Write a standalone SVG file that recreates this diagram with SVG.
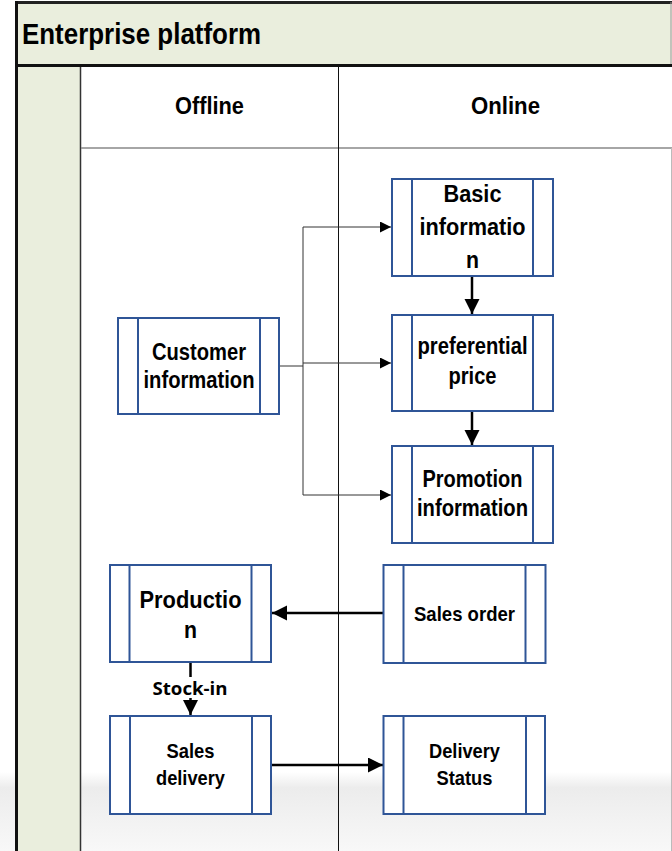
<svg xmlns="http://www.w3.org/2000/svg" width="672" height="851" viewBox="0 0 672 851">
<style>
.node rect{fill:#ffffff;stroke:#2f5597;stroke-width:2}
.node line{stroke:#2f5597;stroke-width:2}
text{font-family:"Liberation Sans",Arial,sans-serif;font-weight:bold;fill:#000;text-anchor:middle}
.thin{stroke:#333;stroke-width:1;fill:none}
.thick{stroke:#000;stroke-width:2.5;fill:none}
</style>
<defs>
<linearGradient id="bg" x1="0" y1="0" x2="0" y2="1">
<stop offset="0" stop-color="#ffffff"/>
<stop offset="0.2" stop-color="#ececec"/>
<stop offset="1" stop-color="#f8f8f8"/>
</linearGradient>
<marker id="ah" markerUnits="userSpaceOnUse" markerWidth="12" markerHeight="12" refX="11" refY="5.5" orient="auto">
<path d="M0,0 L11,5.5 L0,11 Z" fill="#000"/>
</marker>
<marker id="ahb" markerUnits="userSpaceOnUse" markerWidth="16" markerHeight="16" refX="15" refY="7.5" orient="auto">
<path d="M0,0 L15,7.5 L0,15 Z" fill="#000"/>
</marker>
</defs>
<rect x="0" y="0" width="672" height="851" fill="#ffffff"/>
<rect x="0" y="772" width="672" height="79" fill="url(#bg)"/>
<g id="frame">
<rect x="16" y="2" width="656" height="64" fill="#eaeedd"/>
<line x1="15" y1="2.5" x2="672" y2="2.5" stroke="#222" stroke-width="3"/>
<line x1="671" y1="2" x2="671" y2="66" stroke="#999" stroke-width="1"/>
<line x1="15" y1="65.5" x2="672" y2="65.5" stroke="#111" stroke-width="3"/>
<rect x="18" y="67" width="62" height="784" fill="#eaeedd"/>
<line x1="16.5" y1="1" x2="16.5" y2="851" stroke="#111" stroke-width="3"/>
<line x1="80.5" y1="67" x2="80.5" y2="851" stroke="#333" stroke-width="1.5"/>
<line x1="81" y1="148" x2="672" y2="148" stroke="#888" stroke-width="1.5"/>
<line x1="671.5" y1="148" x2="671.5" y2="851" stroke="#bbb" stroke-width="1"/>
<line x1="338.5" y1="67" x2="338.5" y2="851" stroke="#111" stroke-width="1"/>
<text x="22" y="44" font-size="29" textLength="239" lengthAdjust="spacingAndGlyphs" style="text-anchor:start">Enterprise platform</text>
<text x="209.5" y="114" font-size="23" textLength="69" lengthAdjust="spacingAndGlyphs">Offline</text>
<text x="505.5" y="114" font-size="23" textLength="69" lengthAdjust="spacingAndGlyphs">Online</text>
</g>
<g id="connectors">
<polyline class="thin" points="279,366 303,366"/>
<polyline class="thin" points="303,227 303,495"/>
<line class="thin" x1="303" y1="227" x2="391" y2="227" marker-end="url(#ah)"/>
<line class="thin" x1="303" y1="363" x2="391" y2="363" marker-end="url(#ah)"/>
<line class="thin" x1="303" y1="495" x2="391" y2="495" marker-end="url(#ah)"/>
<line class="thick" x1="472" y1="277" x2="472" y2="314" marker-end="url(#ahb)"/>
<line class="thick" x1="472" y1="411" x2="472" y2="445" marker-end="url(#ahb)"/>
<line class="thick" x1="383" y1="613" x2="272" y2="613" marker-end="url(#ahb)"/>
<line class="thick" x1="190.5" y1="662" x2="190.5" y2="677"/>
<line class="thick" x1="190.5" y1="698" x2="190.5" y2="715" marker-end="url(#ahb)"/>
<text x="190" y="695" font-size="17" textLength="75" lengthAdjust="spacingAndGlyphs" style="font-family:'Open Sans','Noto Sans',sans-serif">Stock-in</text>
<line class="thick" x1="271" y1="765" x2="383" y2="765" marker-end="url(#ahb)"/>
</g>
<g id="basic" class="node">
<rect x="392" y="179" width="161" height="97"/>
<line x1="412" y1="179" x2="412" y2="276"/>
<line x1="533" y1="179" x2="533" y2="276"/>
<text x="472.5" y="202" font-size="23.5" textLength="58" lengthAdjust="spacingAndGlyphs">Basic</text>
<text x="472.5" y="235" font-size="23.5" textLength="106" lengthAdjust="spacingAndGlyphs">informatio</text>
<text x="472.5" y="268" font-size="23.5" textLength="13" lengthAdjust="spacingAndGlyphs">n</text>
</g>
<g id="preferential" class="node">
<rect x="392" y="315" width="161" height="96"/>
<line x1="412" y1="315" x2="412" y2="411"/>
<line x1="533" y1="315" x2="533" y2="411"/>
<text x="472.5" y="354" font-size="23" textLength="110" lengthAdjust="spacingAndGlyphs">preferential</text>
<text x="472.5" y="384" font-size="23" textLength="48" lengthAdjust="spacingAndGlyphs">price</text>
</g>
<g id="promotion" class="node">
<rect x="392" y="446" width="161" height="97"/>
<line x1="412" y1="446" x2="412" y2="543"/>
<line x1="533" y1="446" x2="533" y2="543"/>
<text x="472.5" y="487" font-size="23" textLength="100" lengthAdjust="spacingAndGlyphs">Promotion</text>
<text x="472.5" y="516" font-size="23" textLength="111" lengthAdjust="spacingAndGlyphs">information</text>
</g>
<g id="customer" class="node">
<rect x="118" y="318" width="161" height="96"/>
<line x1="138" y1="318" x2="138" y2="414"/>
<line x1="260" y1="318" x2="260" y2="414"/>
<text x="199" y="360" font-size="23" textLength="94" lengthAdjust="spacingAndGlyphs">Customer</text>
<text x="199" y="388" font-size="23" textLength="111" lengthAdjust="spacingAndGlyphs">information</text>
</g>
<g id="production" class="node">
<rect x="110" y="565" width="161" height="97"/>
<line x1="129.5" y1="565" x2="129.5" y2="662"/>
<line x1="251.5" y1="565" x2="251.5" y2="662"/>
<text x="190.5" y="608" font-size="23.5" textLength="102" lengthAdjust="spacingAndGlyphs">Productio</text>
<text x="190.5" y="638" font-size="23.5" textLength="13" lengthAdjust="spacingAndGlyphs">n</text>
</g>
<g id="salesorder" class="node">
<rect x="383.5" y="565" width="162" height="98"/>
<line x1="403.5" y1="565" x2="403.5" y2="663"/>
<line x1="525.5" y1="565" x2="525.5" y2="663"/>
<text x="464.5" y="621" font-size="21" textLength="101" lengthAdjust="spacingAndGlyphs">Sales order</text>
</g>
<g id="salesdelivery" class="node">
<rect x="110" y="716" width="161" height="98"/>
<line x1="130" y1="716" x2="130" y2="814"/>
<line x1="252" y1="716" x2="252" y2="814"/>
<text x="190.5" y="758" font-size="21" textLength="48" lengthAdjust="spacingAndGlyphs">Sales</text>
<text x="190.5" y="785" font-size="21" textLength="69" lengthAdjust="spacingAndGlyphs">delivery</text>
</g>
<g id="deliverystatus" class="node">
<rect x="383.5" y="716" width="161.5" height="98"/>
<line x1="403.5" y1="716" x2="403.5" y2="814"/>
<line x1="526" y1="716" x2="526" y2="814"/>
<text x="464.5" y="758" font-size="21" textLength="71" lengthAdjust="spacingAndGlyphs">Delivery</text>
<text x="464.5" y="785" font-size="21" textLength="56" lengthAdjust="spacingAndGlyphs">Status</text>
</g>
</svg>
